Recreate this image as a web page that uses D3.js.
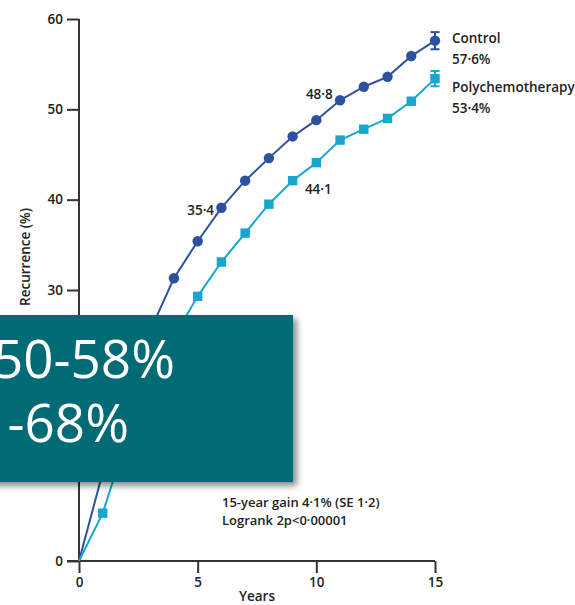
<!DOCTYPE html>
<html>
<head>
<meta charset="utf-8">
<script src="https://cdn.jsdelivr.net/npm/d3@7"></script>
<style>
  html, body { margin: 0; padding: 0; background: #fff; }
  svg { display: block; }
</style>
</head>
<body>
<svg id="chart" width="575" height="605"></svg>
<script>
// Recurrence by year since randomisation
const years = [0, 1, 2, 3, 4, 5, 6, 7, 8, 9, 10, 11, 12, 13, 14, 15];
const control = [0, 9.8, 18.0, 25.5, 31.3, 35.4, 39.1, 42.1, 44.6, 47.0, 48.8, 51.0, 52.5, 53.6, 55.9, 57.6];
const polychemo = [0, 5.3, 13.5, 19.8, 24.8, 29.3, 33.1, 36.3, 39.5, 42.1, 44.1, 46.6, 47.8, 49.0, 50.9, 53.4];
// Standard error at 15 years: [control, polychemotherapy]
const endSE = [0.95, 0.85];

const seriesNames = ["Control", "Polychemotherapy"];
const endLabels = ["57·6%", "53·4%"];
const xTicks = [0, 5, 10, 15];
const yTicks = [0, 10, 20, 30, 40, 50, 60];
const xTitle = "Years";
const yTitle = "Recurrence (%)";
const noteLines = ["15-year gain 4·1% (SE 1·2)", "Logrank 2p<0·00001"];
const calloutLines = ["50-58%", "-68%"];

const colControl = "#2d519f";
const colPoly = "#17a6d0";
const ink = "#222";
const font = "'Open Sans', 'Noto Sans', sans-serif";
const fs = 13.5;

const svg = d3.select("#chart");
const x = d3.scaleLinear().domain([0, 15]).range([79, 435]);
const y = d3.scaleLinear().domain([0, 60]).range([561, 19]);

// Axes
const yAxis = d3.axisLeft(y).tickValues(yTicks).tickSize(12).tickPadding(4).tickFormat(d => d);
const gy = svg.append("g").attr("transform", `translate(${x(0)},0)`).call(yAxis);
const xAxis = d3.axisBottom(x).tickValues(xTicks).tickSize(12).tickPadding(4).tickFormat(d => d);
const gx = svg.append("g").attr("transform", `translate(0,${y(0)})`).call(xAxis);
[gx, gy].forEach(g => {
  g.select(".domain").attr("stroke", "#333").attr("stroke-width", 2);
  g.selectAll(".tick line").attr("stroke", "#333").attr("stroke-width", 2);
  g.selectAll(".tick text").attr("fill", ink).attr("font-family", font)
    .attr("font-size", fs).attr("font-weight", 600);
});
// extend the x axis baseline to the left under the zero tick
gx.select(".domain").attr("d", `M${x(0) - 12},0H${x(15)}`);
gy.select(".domain").attr("d", `M0,${y(60)}V${y(0)}`);

svg.append("text").attr("x", (x(0) + x(15)) / 2).attr("y", 601)
  .attr("text-anchor", "middle").attr("font-family", font).attr("font-size", fs)
  .attr("font-weight", 600).attr("fill", ink).text(xTitle);
svg.append("text").attr("transform", "translate(30,257) rotate(-90)")
  .attr("text-anchor", "middle").attr("font-family", font).attr("font-size", fs)
  .attr("font-weight", 600).attr("fill", ink).text(yTitle);

// Curves
const line = d3.line().x((d, i) => x(years[i])).y(d => y(d));
const series = [
  { name: seriesNames[0], values: control, color: colControl, shape: "circle", se: endSE[0] },
  { name: seriesNames[1], values: polychemo, color: colPoly, shape: "square", se: endSE[1] }
];
series.forEach(s => {
  svg.append("path").datum(s.values).attr("d", line)
    .attr("fill", "none").attr("stroke", s.color).attr("stroke-width", 2);
  // error bar at 15 years
  const last = s.values[s.values.length - 1];
  const xe = x(years[years.length - 1]);
  const g = svg.append("g").attr("stroke", s.color).attr("stroke-width", 2);
  g.append("line").attr("x1", xe).attr("x2", xe).attr("y1", y(last + s.se)).attr("y2", y(last - s.se));
  g.append("line").attr("x1", xe - 4.5).attr("x2", xe + 4.5).attr("y1", y(last + s.se)).attr("y2", y(last + s.se));
  g.append("line").attr("x1", xe - 4.5).attr("x2", xe + 4.5).attr("y1", y(last - s.se)).attr("y2", y(last - s.se));
  const pts = s.values.map((v, i) => ({ t: years[i], v })).filter(d => d.t > 0);
  if (s.shape === "circle") {
    svg.append("g").selectAll("circle").data(pts).join("circle")
      .attr("cx", d => x(d.t)).attr("cy", d => y(d.v)).attr("r", 5.2).attr("fill", s.color);
  } else {
    svg.append("g").selectAll("rect").data(pts).join("rect")
      .attr("x", d => x(d.t) - 4.7).attr("y", d => y(d.v) - 4.7)
      .attr("width", 9.4).attr("height", 9.4).attr("fill", s.color);
  }
});

// Value call-outs on the curves
const fmt = v => d3.format(".1f")(v).replace(".", "·");
const callouts = [
  { t: 5, v: control[5], dx: 3, dy: -26 },
  { t: 10, v: control[10], dx: 3, dy: -21 },
  { t: 10, v: polychemo[10], dx: 2, dy: 31 }
];
svg.append("g").selectAll("text").data(callouts).join("text")
  .attr("x", d => x(d.t) + d.dx).attr("y", d => y(d.v) + d.dy)
  .attr("text-anchor", "middle").attr("font-family", font).attr("font-size", fs)
  .attr("font-weight", 600).attr("fill", ink).text(d => fmt(d.v));

// Series labels at the right end
const endG = svg.append("g").attr("font-family", font).attr("font-size", fs)
  .attr("font-weight", 600).attr("fill", ink);
[[43, 64], [92, 113]].forEach((ys, i) => {
  endG.append("text").attr("x", 452).attr("y", ys[0]).text(seriesNames[i]);
  endG.append("text").attr("x", 452).attr("y", ys[1]).text(endLabels[i]);
});

// Test statistics
const note = svg.append("g").attr("font-family", font).attr("font-size", 13)
  .attr("font-weight", 600).attr("fill", ink);
noteLines.forEach((t, i) => note.append("text").attr("x", 222).attr("y", 507 + i * 18).text(t));

// Highlight box
const defs = svg.append("defs");
const f = defs.append("filter").attr("id", "shadow").attr("x", "-10%").attr("y", "-10%")
  .attr("width", "130%").attr("height", "130%");
f.append("feDropShadow").attr("dx", 4).attr("dy", 4).attr("stdDeviation", 3)
  .attr("flood-color", "#000").attr("flood-opacity", 0.45);
const box = svg.append("g");
box.append("rect").attr("x", -20).attr("y", 315).attr("width", 313).attr("height", 167)
  .attr("fill", "#006b75").attr("filter", "url(#shadow)");
box.append("text").attr("x", 175).attr("y", 378).attr("text-anchor", "end")
  .attr("font-family", font).attr("font-size", 53).attr("fill", "#fff").text(calloutLines[0]);
box.append("text").attr("x", 129).attr("y", 442).attr("text-anchor", "end")
  .attr("font-family", font).attr("font-size", 53).attr("fill", "#fff").text(calloutLines[1]);
</script>
</body>
</html>
